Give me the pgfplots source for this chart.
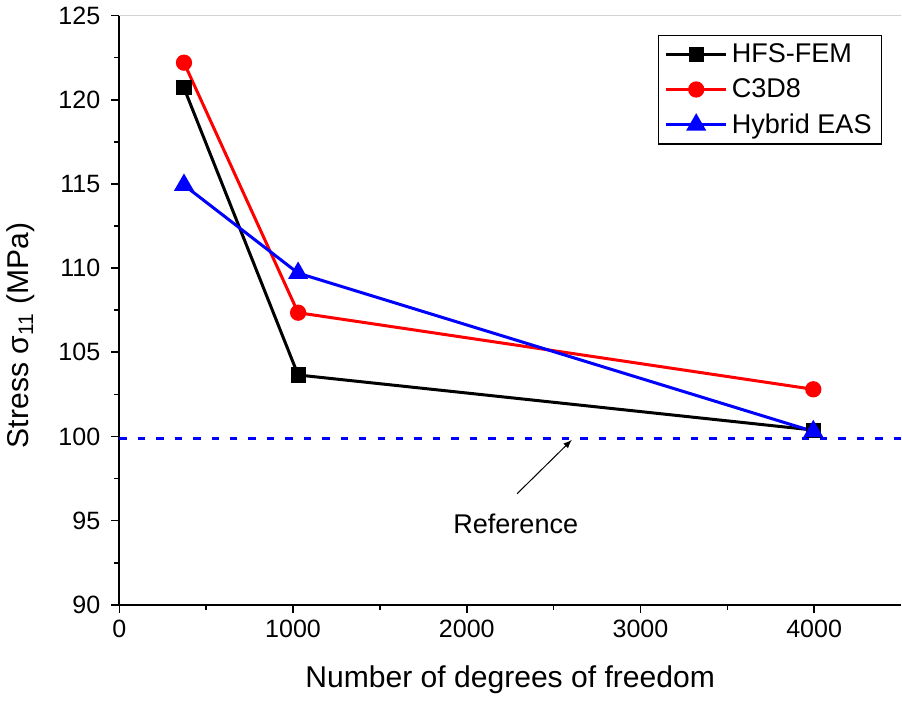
\documentclass[border=0pt]{standalone}
\usepackage{fontspec}
\setmainfont{Liberation Sans}
\usepackage{pgfplots}
\pgfplotsset{compat=1.18}
\begin{document}
\begin{tikzpicture}
\begin{axis}[
  scale only axis,
  width=390pt, height=294pt,
  xmin=0, xmax=4500, ymin=90, ymax=125,
  axis x line*=bottom, axis y line*=left,
  axis line style={line width=1pt, -},
  xtick={0,1000,2000,3000,4000},
  ytick={90,95,...,125},
  minor x tick num=1, minor y tick num=1,
  tick align=outside,
  major tick length=4pt, minor tick length=2.5pt,
  every tick/.style={black, line width=0.8pt},
  xticklabel={\fontsize{12.5}{14}\selectfont\pgfmathprintnumber[assume math mode=true,set thousands separator={}]{\tick}},
  yticklabel={\fontsize{12.5}{14}\selectfont\pgfmathprintnumber[assume math mode=true]{\tick}},
  yticklabel style={xshift=-2pt},
  xlabel={Number of degrees of freedom},
  ylabel={Stress σ\textsubscript{11} (MPa)},
  label style={font=\fontsize{15}{17}\selectfont},
  xlabel shift=7pt,
  ylabel shift=5pt,
  ylabel style={at={(ticklabel cs:0.457)}},
  legend style={at={(0.976,0.967)}, anchor=north east, draw=black, line width=0.6pt,
    font=\fontsize{13.5}{16}\selectfont, inner xsep=3pt, inner ysep=2pt, row sep=2.5pt},
  legend cell align=left,
  legend image code/.code={
    \draw[#1, line width=1.5pt] (0pt,0pt) -- (30pt,0pt);
    \draw[#1, only marks] plot coordinates {(15pt,0pt)};
  },
]
\draw[gray!35, line width=0.8pt] (rel axis cs:0,1) -- (rel axis cs:1,1);
\addplot[black, line width=1.5pt, mark=square*, mark size=3pt, mark options={solid}]
  coordinates {(372,120.7) (1029,103.65) (3995,100.38)};
\addlegendentry{HFS-FEM}
\addplot[red, line width=1.5pt, mark=*, mark size=3.3pt]
  coordinates {(372,122.2) (1029,107.35) (3995,102.8)};
\addlegendentry{C3D8}
\addplot[blue, line width=1.5pt, mark=triangle*, mark size=4.3pt]
  coordinates {(372,114.93) (1029,109.7) (3995,100.3)};
\addlegendentry{Hybrid EAS}
\addplot[blue, line width=1.4pt, dash pattern=on 3.7pt off 5.5pt, forget plot]
  coordinates {(0,99.88) (4500,99.88)};
\draw[-latex, line width=0.5pt] (axis cs:2290,96.6) -- (axis cs:2605,99.8);
\node[font=\fontsize{13.5}{16}\selectfont] at (axis cs:2282,94.8) {Reference};
\end{axis}
\end{tikzpicture}
\end{document}
